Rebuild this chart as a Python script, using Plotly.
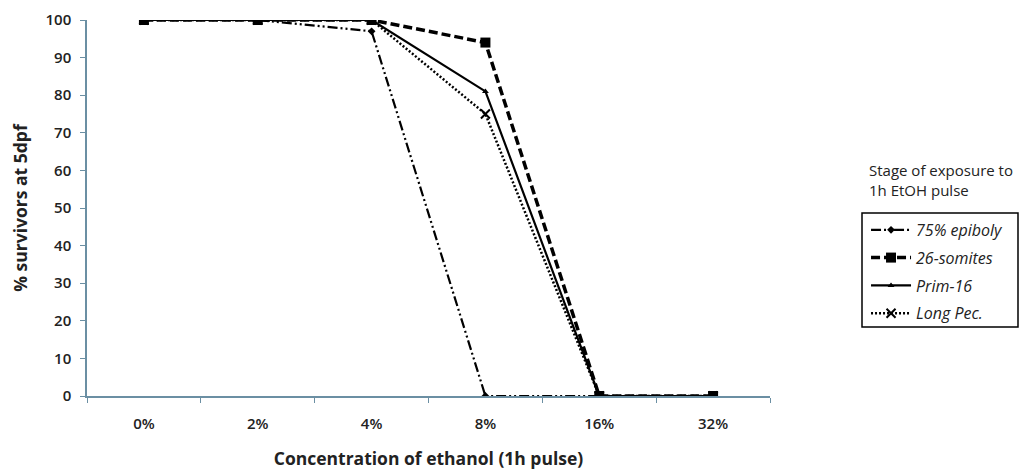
import plotly.graph_objects as go

categories = ["0%", "2%", "4%", "8%", "16%", "32%"]
epiboly = [100, 100, 97, 0, 0, 0]
somites = [100, 100, 100, 94, 0, 0]
prim16 = [100, 100, 100, 81, 0, 0]
longpec = [100, 100, 100, 75, 0, 0]
y_ticks = list(range(0, 101, 10))

fig = go.Figure()
fig.add_trace(go.Scatter(x=categories, y=epiboly, name="75% epiboly", mode="lines+markers", legendgroup="a",
                         line=dict(color="black", width=2.2, dash="10px,3px,2px,3px,2px,3px"),
                         marker=dict(symbol="diamond", size=6, color="black")))
fig.add_trace(go.Scatter(x=categories, y=somites, name="26-somites", mode="lines+markers", legendgroup="b",
                         line=dict(color="black", width=3.5, dash="9px,4px"),
                         marker=dict(symbol="square", size=10, color="black")))
fig.add_trace(go.Scatter(x=categories, y=prim16, name="Prim-16", mode="lines+markers", legendgroup="c",
                         line=dict(color="black", width=2.2),
                         marker=dict(symbol="triangle-up", size=6, color="black")))
fig.add_trace(go.Scatter(x=categories, y=longpec, name="Long Pec.", mode="lines+markers", legendgroup="d",
                         line=dict(color="black", width=2.5, dash="2px,2px"),
                         marker=dict(symbol="x-thin", size=9, color="black",
                                     line=dict(color="black", width=2))))

axis_color = "#6b8fa3"
fig.update_layout(
    width=1028, height=471,
    margin=dict(l=79, r=266, t=12, b=83, autoexpand=False),
    paper_bgcolor="white", plot_bgcolor="white",
    font=dict(family="Open Sans", size=14, color="#222"),
    xaxis=dict(type="category", range=[-0.5, 5.5], showline=True, linecolor=axis_color, linewidth=1.5,
               ticks="outside", tickson="boundaries", ticklen=5, tickcolor=axis_color,
               showgrid=False, zeroline=False, automargin=False, ticklabelstandoff=13,
               tickfont=dict(size=15, weight=600),
               title=dict(text="<b>Concentration of ethanol (1h pulse)</b>", font=dict(size=17.5), standoff=21)),
    yaxis=dict(range=[0, 100], tickvals=y_ticks, showline=True, linecolor=axis_color, linewidth=1.5,
               ticks="outside", ticklen=5, tickcolor=axis_color, showgrid=False, zeroline=False,
               automargin=False, ticklabelstandoff=6,
               tickfont=dict(size=15, weight=600),
               title=dict(text="<b>% survivors at 5dpf</b>", font=dict(size=17.5), standoff=14)),
    legend=dict(x=1.1406, y=0.487, xanchor="left", yanchor="top", borderwidth=0,
                bgcolor="rgba(0,0,0,0)", font=dict(size=16, style="italic"), itemwidth=40, tracegroupgap=4),
    showlegend=True,
)
fig.add_shape(type="rect", xref="paper", yref="paper", x0=1.1347, x1=1.3631, y0=0.1835, y1=0.4867,
              line=dict(color="black", width=1.5), fillcolor="rgba(0,0,0,0)")
fig.add_annotation(text="Stage of exposure to<br>1h EtOH pulse", xref="paper", yref="paper",
                   x=1.142, y=0.632, xanchor="left", yanchor="top", showarrow=False, align="left",
                   font=dict(size=15, color="#222"))

fig.write_html("out.html")
